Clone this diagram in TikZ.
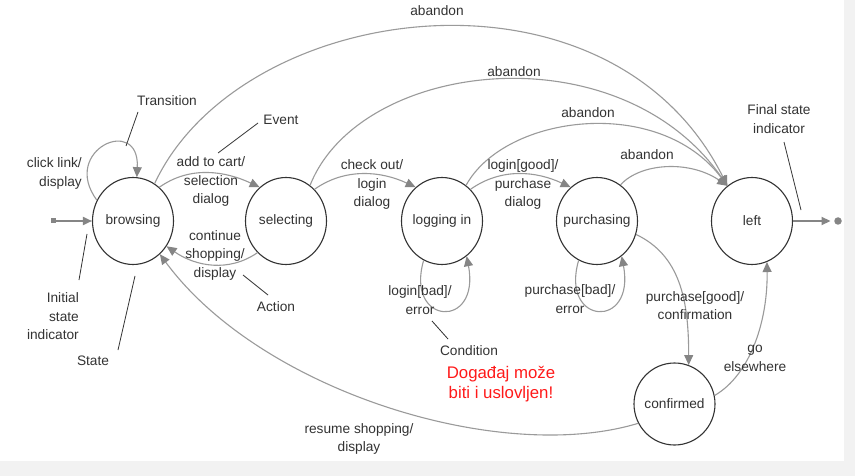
\documentclass[tikz,border=0pt]{standalone}
\usepackage{fontspec}
\setmainfont{Liberation Sans}
\usetikzlibrary{arrows.meta,shapes.geometric}
\definecolor{edgegray}{HTML}{9A9A9A}
\definecolor{tipgray}{HTML}{858585}
\definecolor{ink}{HTML}{333333}
\definecolor{bggray}{HTML}{F2F2F2}
\definecolor{alertred}{HTML}{FF1A1A}
\newcommand{\zw}[1]{\makebox[0pt]{#1}}
\begin{document}
\begin{tikzpicture}[x=1pt,y=-1pt,
  state/.style={ellipse, draw=ink, line width=1.1pt, minimum width=81pt, minimum height=87pt, inner sep=0pt, text=ink, font=\fontsize{13.7}{18.5}\selectfont},
  lbl/.style={text=ink, font=\fontsize{13.7}{18.5}\selectfont, inner sep=0pt, align=center},
  trans/.style={draw=edgegray, line width=1.1pt, -{Triangle[length=10pt,width=9pt,color=tipgray]}},
  annot/.style={draw=ink, line width=0.8pt},
]
\useasboundingbox (0,0) rectangle (855,476);
\fill[bggray] (0,0) rectangle (855,476);
\fill[white] (0,0) rectangle (844,461);

% states
\node[state] (browsing) at (133,221) {\zw{browsing}};
\node[state] (selecting) at (286,221) {\zw{selecting}};
\node[state] (logging) at (442,221) {\zw{logging in}};
\node[state] (purchasing) at (597,221) {\zw{purchasing}};
\node[state] (left) at (752,221) {\zw{left}};
\node[state, minimum height=82pt] (confirmed) at (674.5,404) {\zw{confirmed}};

% initial / final
\node[fill=tipgray, minimum size=5pt, inner sep=0pt] (init) at (53,221) {};
\draw[draw=tipgray, line width=1.8pt, -{Triangle[length=9pt,width=8pt,color=tipgray]}] (init) -- (browsing.west);
\node[circle, fill=tipgray, minimum size=7.5pt, inner sep=0pt] (fin) at (838,221) {};
\draw[draw=tipgray, line width=1.8pt, shorten >=3.5pt, -{Triangle[length=9pt,width=8pt,color=tipgray]}] (left.east) -- (fin);

% transitions
\draw[trans] (browsing.150) .. controls +(-37,-50) and +(3,-63) .. (browsing.85);
\draw[trans] (browsing.52) .. controls +(31,-22) and +(-34,-16) .. (selecting.128);
\draw[trans] (selecting.228) .. controls +(-29,20) and +(29,20) .. (browsing.-37);
\draw[trans] (selecting.48) .. controls +(31,-22) and +(-34,-16) .. (logging.128);
\draw[trans] (logging.48) .. controls +(31,-22) and +(-34,-16) .. (purchasing.128);
\draw[trans] (logging.-115) .. controls +(-19,65) and +(14,74) .. (logging.-55);
\draw[trans] (purchasing.-115) .. controls +(-19,65) and +(14,74) .. (purchasing.-55);
\draw[trans] (purchasing.-19) .. controls +(44,21) and +(0,-65) .. (confirmed.70);
\draw[trans] (confirmed.12) .. controls +(36,-21) and +(1,58) .. (left.-70);
\draw[trans] (confirmed.208) .. controls +(-139,42) and +(100,136) .. (browsing.-51);
% abandon
\draw[trans] (purchasing.57) .. controls +(20,-22) and +(-38,-26) .. (left.125);
\draw[trans] (logging.56) .. controls +(39,-71) and +(-68,-91) .. (left.125);
\draw[trans] (selecting.56) .. controls +(50,-126) and +(-108,-156) .. (left.125);
\draw[trans] (browsing.60) .. controls +(86,-184) and +(-118,-236) .. (left.125);

% transition labels
\node[lbl, anchor=east, align=right] (lclick) at (82,173.5) {click link/\\display};
\node[lbl] (laddcart) at (211,181.5) {add to cart/\\selection\\dialog};
\node[lbl] (lcontinue) at (215,255) {continue\\shopping/\\display};
\node[lbl] (lcheckout) at (372,184.5) {check out/\\login\\dialog};
\node[lbl] (lgood) at (523,184.5) {login[good]/\\purchase\\dialog};
\node[lbl] (lbad) at (420,300) {login[bad]/\\error};
\node[lbl] (lpbad) at (570,299) {purchase[bad]/\\error};
\node[lbl] (lpgood) at (695,305.5) {purchase[good]/\\confirmation};
\node[lbl] (lgo) at (755,358.5) {go\\elsewhere};
\node[lbl] (lresume) at (359,439) {resume shopping/\\display};
\node[lbl] (lab1) at (437,11) {abandon};
\node[lbl] (lab2) at (514,72) {abandon};
\node[lbl] (lab3) at (588,113) {abandon};
\node[lbl] (lab4) at (647,155) {abandon};

% annotations
\node[lbl] (ntransition) at (167,101) {Transition};
\node[lbl] (nevent) at (281,120) {Event};
\node[lbl] (naction) at (276,307) {Action};
\node[lbl, anchor=east, align=right] (ninitial) at (79,316.5) {Initial\\state\\indicator};
\node[lbl] (nstate) at (93,361) {State};
\node[lbl] (ncondition) at (469,351) {Condition};
\node[lbl] (nfinal) at (779,119) {Final state\\indicator};
\node[lbl, text=alertred, font=\fontsize{16.8}{20}\selectfont] (nred) at (501,384) {Događaj može\\biti i uslovljen!};

\coordinate (a1) at (138,112); \coordinate (a2) at (126,146);
\coordinate (b1) at (258,123); \coordinate (b2) at (218,153);
\coordinate (c1) at (268,295); \coordinate (c2) at (243,275);
\coordinate (d1) at (79,280);  \coordinate (d2) at (87,234);
\coordinate (e1) at (118,350); \coordinate (e2) at (135,276);
\coordinate (f1) at (448,339); \coordinate (f2) at (432,321);
\coordinate (g1) at (784,142); \coordinate (g2) at (801,210);
\draw[annot] (a1) -- (a2);
\draw[annot] (b1) -- (b2);
\draw[annot] (c1) -- (c2);
\draw[annot] (d1) -- (d2);
\draw[annot] (e1) -- (e2);
\draw[annot] (f1) -- (f2);
\draw[annot] (g1) -- (g2);
\end{tikzpicture}
\end{document}
